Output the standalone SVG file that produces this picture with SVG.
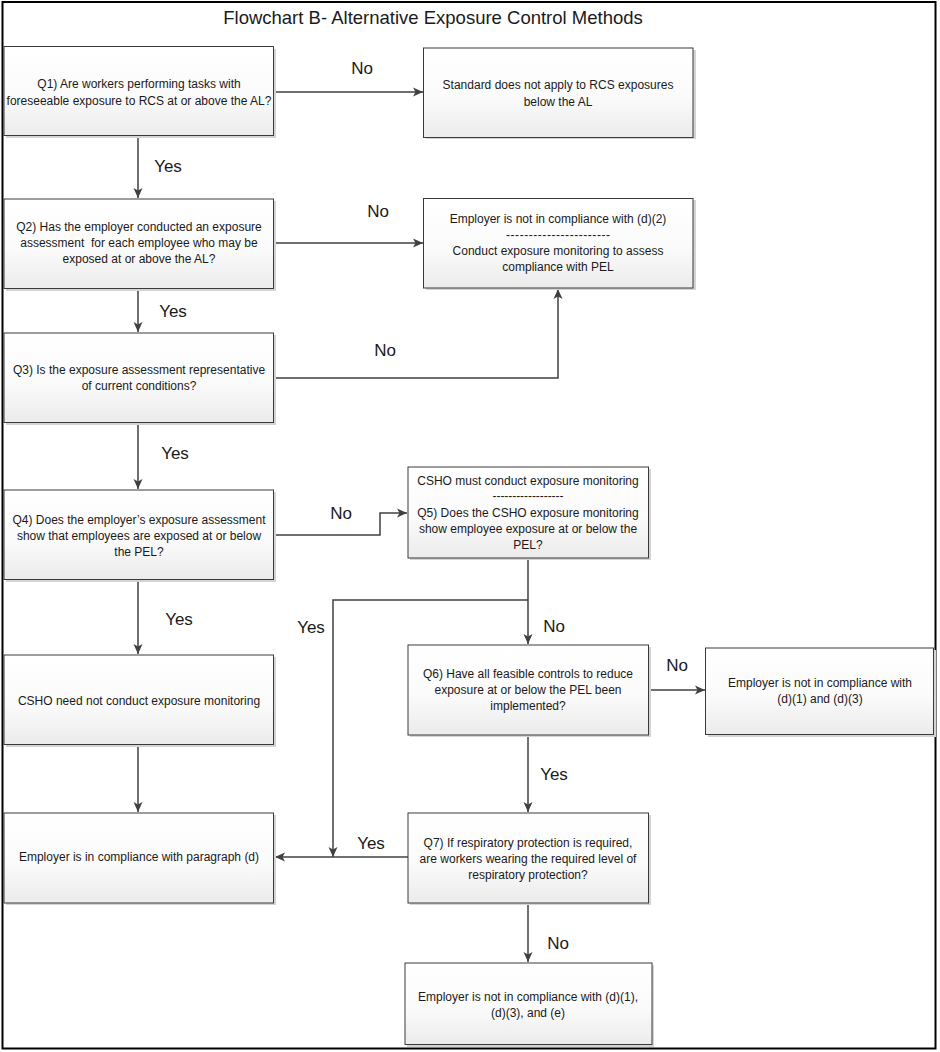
<svg xmlns="http://www.w3.org/2000/svg" width="940" height="1052" viewBox="0 0 940 1052">
<style>
.box{fill:url(#g);stroke:#3a3a3a;stroke-width:1}
.sh{fill:#d4d4d4}
.t{font-family:"Liberation Sans",Arial,sans-serif;font-size:12px;fill:#1a1a1a;text-anchor:middle}
.lb{font-family:"Liberation Sans",Arial,sans-serif;font-size:17px;fill:#1a1a1a;text-anchor:middle}
.c{fill:none;stroke:#404040;stroke-width:1.5;marker-end:url(#a)}
</style>
<defs>
<linearGradient id="g" x1="0" y1="0" x2="0" y2="1">
<stop offset="0" stop-color="#ffffff"/>
<stop offset="0.55" stop-color="#fbfbfb"/>
<stop offset="1" stop-color="#ebebeb"/>
</linearGradient>
<marker id="a" viewBox="0 0 10 10" refX="10" refY="5" markerWidth="10" markerHeight="10" markerUnits="userSpaceOnUse" orient="auto">
<path d="M0,0.5 L10,5 L0,9.5 L2.5,5 Z" fill="#404040"/>
</marker>
</defs>
<rect x="0" y="0" width="940" height="1052" fill="#ffffff"/>
<rect x="2.5" y="2" width="933" height="1046.5" fill="none" stroke="#000" stroke-width="2"/>
<text x="433" y="24" font-family="Liberation Sans,Arial,sans-serif" font-size="18.5" fill="#1a1a1a" text-anchor="middle">Flowchart B- Alternative Exposure Control Methods</text>

<g id="connectors">
<path class="c" d="M274,92 H423"/>
<text class="lb" x="362" y="74">No</text>
<path class="c" d="M138,136 V198"/>
<text class="lb" x="168" y="172">Yes</text>
<path class="c" d="M274,243 H423"/>
<text class="lb" x="378" y="217">No</text>
<path class="c" d="M138,289 V332"/>
<text class="lb" x="173" y="317">Yes</text>
<path class="c" d="M274,378 H558 V289"/>
<text class="lb" x="385" y="356">No</text>
<path class="c" d="M138,422 V489"/>
<text class="lb" x="175" y="459">Yes</text>
<path class="c" d="M274,535 H380 V513 H407"/>
<text class="lb" x="341" y="519">No</text>
<path class="c" d="M138,580 V654"/>
<text class="lb" x="179" y="625">Yes</text>
<path class="c" d="M528,558 V644"/>
<path class="c" d="M528,600 H333 V857"/>
<text class="lb" x="311" y="633">Yes</text>
<text class="lb" x="554" y="632">No</text>
<path class="c" d="M649,690 H705"/>
<text class="lb" x="677" y="671">No</text>
<path class="c" d="M528,735 V812"/>
<text class="lb" x="554" y="780">Yes</text>
<path class="c" d="M138,745 V812"/>
<path class="c" d="M408,857 H275"/>
<text class="lb" x="371" y="849">Yes</text>
<path class="c" d="M528,903 V962"/>
<text class="lb" x="558" y="949">No</text>
</g>

<g id="q1">
<rect class="sh" x="6" y="49" width="270" height="89"/>
<rect class="box" x="4" y="46.5" width="269.5" height="89"/>
<text class="t" x="139" y="88">Q1) Are workers performing tasks with</text>
<text class="t" x="139" y="105">foreseeable exposure to RCS at or above the AL?</text>
</g>
<g id="n_std">
<rect class="sh" x="426" y="50" width="270" height="89"/>
<rect class="box" x="423.5" y="48" width="269.5" height="89.5"/>
<text class="t" x="558" y="89">Standard does not apply to RCS exposures</text>
<text class="t" x="558" y="106">below the AL</text>
</g>
<g id="q2">
<rect class="sh" x="6" y="201" width="270" height="90"/>
<rect class="box" x="4" y="199" width="269.5" height="89.5"/>
<text class="t" x="139" y="231">Q2) Has the employer conducted an exposure</text>
<text class="t" x="139" y="247" xml:space="preserve">assessment  for each employee who may be</text>
<text class="t" x="139" y="263">exposed at or above the AL?</text>
</g>
<g id="n_d2">
<rect class="sh" x="426" y="200" width="270" height="90"/>
<rect class="box" x="423.5" y="198.5" width="269.5" height="89.5"/>
<text class="t" x="558" y="223">Employer is not in compliance with (d)(2)</text>
<text class="t" x="558" y="239" textLength="104" lengthAdjust="spacing">-----------------------</text>
<text class="t" x="558" y="255">Conduct exposure monitoring to assess</text>
<text class="t" x="558" y="271">compliance with PEL</text>
</g>
<g id="q3">
<rect class="sh" x="6" y="335" width="270" height="90"/>
<rect class="box" x="4" y="333" width="269.5" height="89.5"/>
<text class="t" x="139" y="374">Q3) Is the exposure assessment representative</text>
<text class="t" x="139" y="390">of current conditions?</text>
</g>
<g id="q4">
<rect class="sh" x="6" y="492" width="270" height="90"/>
<rect class="box" x="4" y="490" width="269.5" height="89.5"/>
<text class="t" x="139" y="524">Q4) Does the employer’s exposure assessment</text>
<text class="t" x="139" y="540">show that employees are exposed at or below</text>
<text class="t" x="139" y="556">the PEL?</text>
</g>
<g id="q5">
<rect class="sh" x="410" y="469" width="241" height="91"/>
<rect class="box" x="408" y="467" width="240.5" height="91"/>
<text class="t" x="528" y="485">CSHO must conduct exposure monitoring</text>
<text class="t" x="528" y="500" textLength="71" lengthAdjust="spacing">------------------</text>
<text class="t" x="528" y="517">Q5) Does the CSHO exposure monitoring</text>
<text class="t" x="528" y="533">show employee exposure at or below the</text>
<text class="t" x="528" y="549">PEL?</text>
</g>
<g id="n_need_not">
<rect class="sh" x="6" y="657" width="270" height="90"/>
<rect class="box" x="4" y="655" width="269.5" height="89.5"/>
<text class="t" x="139" y="705">CSHO need not conduct exposure monitoring</text>
</g>
<g id="q6">
<rect class="sh" x="410" y="647" width="241" height="90"/>
<rect class="box" x="408" y="645" width="240.5" height="90"/>
<text class="t" x="528" y="678">Q6) Have all feasible controls to reduce</text>
<text class="t" x="528" y="694">exposure at or below the PEL been</text>
<text class="t" x="528" y="710">implemented?</text>
</g>
<g id="n_d1d3">
<rect class="sh" x="708" y="650" width="228" height="87"/>
<rect class="box" x="705.5" y="648" width="228" height="86.5"/>
<text class="t" x="820" y="687">Employer is not in compliance with</text>
<text class="t" x="820" y="703">(d)(1) and (d)(3)</text>
</g>
<g id="n_comply">
<rect class="sh" x="6" y="815" width="270" height="90"/>
<rect class="box" x="4" y="813" width="269.5" height="90"/>
<text class="t" x="139" y="861">Employer is in compliance with paragraph (d)</text>
</g>
<g id="q7">
<rect class="sh" x="410" y="815" width="241" height="90"/>
<rect class="box" x="408" y="813" width="240.5" height="90"/>
<text class="t" x="528" y="847">Q7) If respiratory protection is required,</text>
<text class="t" x="528" y="863">are workers wearing the required level of</text>
<text class="t" x="528" y="879">respiratory protection?</text>
</g>
<g id="n_final">
<rect class="sh" x="407" y="965" width="247" height="82"/>
<rect class="box" x="405" y="963" width="247" height="81.5"/>
<text class="t" x="528" y="1001">Employer is not in compliance with (d)(1),</text>
<text class="t" x="528" y="1017">(d)(3), and (e)</text>
</g>
</svg>
